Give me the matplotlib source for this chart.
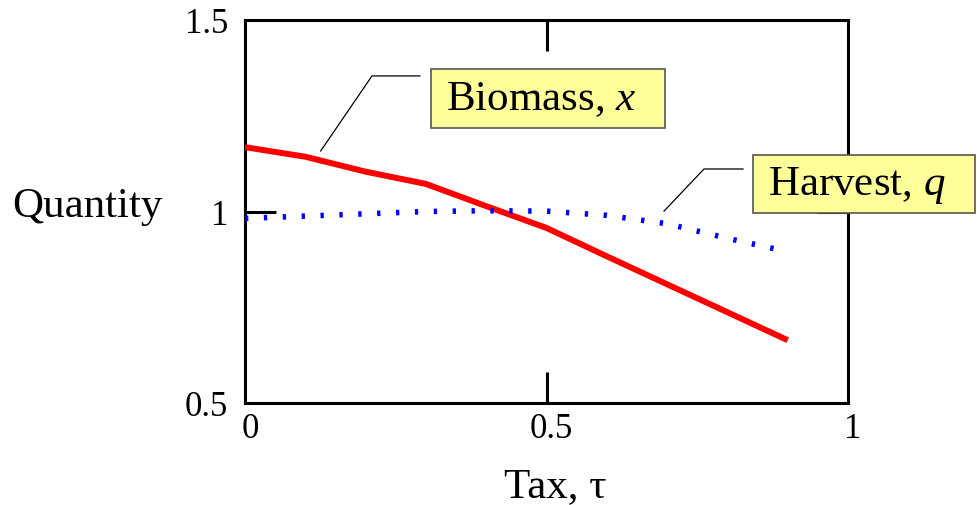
import numpy as np
import matplotlib
matplotlib.use("Agg")
import matplotlib.pyplot as plt
from matplotlib.patches import Rectangle

plt.rcParams['font.family'] = ['Liberation Serif', 'DejaVu Serif']
plt.rcParams['mathtext.fontset'] = 'custom'
plt.rcParams['mathtext.rm'] = 'Liberation Serif'
plt.rcParams['mathtext.it'] = 'Liberation Serif:italic'

# data
tax = [0.0, 0.1, 0.2, 0.3, 0.4, 0.5, 0.6, 0.7, 0.8, 0.9]
biomass = [1.168, 1.143, 1.104, 1.072, 1.014, 0.957, 0.883, 0.810, 0.737, 0.664]
harvest = [0.982, 0.988, 0.994, 1.000, 1.002, 1.001, 0.990, 0.968, 0.930, 0.895]

xticks = [0, 0.5, 1]
xticklabels = ["0", "0.5", "1"]
yticks = [0.5, 1, 1.5]
yticklabels = ["0.5", "1", "1.5"]


def main():
    fig = plt.figure(figsize=(9.78, 5.05), dpi=100)
    ax = fig.add_axes([245 / 978, 1 - 403 / 505, 603 / 978, 383 / 505])

    ax.plot(tax, biomass, color='red', lw=4.3, solid_capstyle='butt', zorder=3)
    ax.plot(tax, harvest, color='blue', lw=4.0, linestyle=(0, (0.6, 2.8)),
            dash_capstyle='butt', zorder=3)

    ax.set_xlim(0, 1)
    ax.set_ylim(0.5, 1.5)
    for s in ax.spines.values():
        s.set_linewidth(2.2)

    # long inward ticks only at the middle values
    ax.set_xticks([0.5])
    ax.set_yticks([1])
    ax.set_xticklabels([])
    ax.set_yticklabels([])
    ax.tick_params(direction='in', length=22, width=2.2, top=True, right=True)

    # tick labels as text, they sit slightly low in the original
    for v, lab in zip(xticks, xticklabels):
        ax.text(v + 0.008, 0.475, lab, ha='center', va='top', fontsize=25)
    for v, lab in zip(yticks, yticklabels):
        ax.text(-0.028, v - 0.012, lab, ha='right', va='center', fontsize=25)

    fig.text(12 / 978, 1 - 207 / 505, "Quantity", ha='left', va='center', fontsize=31)
    fig.text(555 / 978, 1 - 487 / 505, "Tax, \u03c4", ha='center', va='center', fontsize=31)

    # label boxes
    ax.add_patch(Rectangle((0.3085, 1.218), 0.388, 0.154, transform=ax.transData,
                           fc='#ffff99', ec='#555555', lw=1.2, clip_on=False, zorder=5))
    ax.text(0.333, 1.292, "Biomass, $x$", ha='left', va='center', fontsize=31, zorder=6)
    ax.add_patch(Rectangle((0.8425, 0.996), 0.368, 0.1515, transform=ax.transData,
                           fc='#ffff99', ec='#555555', lw=1.2, clip_on=False, zorder=5))
    ax.text(0.867, 1.069, "Harvest, $q$", ha='left', va='center', fontsize=31,
            zorder=6, clip_on=False)

    # leader lines
    ax.plot([0.1255, 0.2106, 0.290], [1.158, 1.354, 1.354], color='black', lw=0.9,
            clip_on=False, zorder=4)
    ax.plot([0.6949, 0.7612, 0.8259], [1.001, 1.111, 1.111], color='black', lw=0.9,
            clip_on=False, zorder=4)

    fig.savefig("out.png", dpi=100)


if __name__ == "__main__":
    main()
